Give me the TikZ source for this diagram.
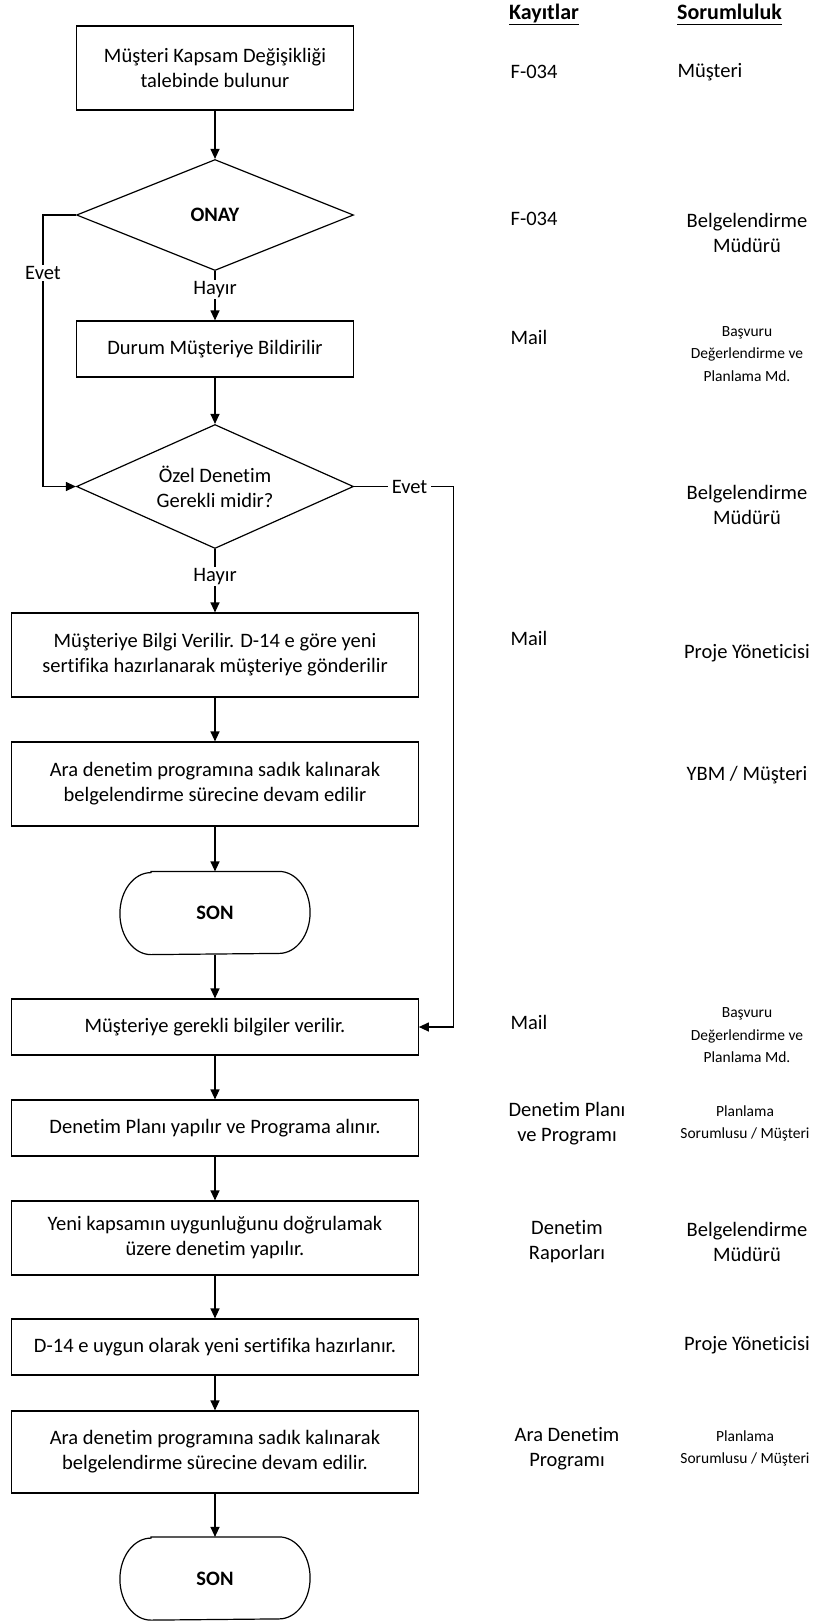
\documentclass[tikz,border=0pt]{standalone}
\usepackage{fontspec}
\setmainfont{Carlito}[Ligatures=NoCommon]
\usetikzlibrary{shapes.geometric,arrows.meta}
\begin{document}
\begin{tikzpicture}[x=1pt,y=-1pt,line width=1.2pt,
  every node/.style={font=\fontsize{20.5}{25}\selectfont},
  box/.style={draw, rectangle, align=center, inner sep=0pt, minimum width=277pt},
  wide/.style={minimum width=406.5pt},
  dec/.style={draw, diamond, aspect=2.2, align=center, inner sep=0pt, minimum width=277pt},
  arr/.style={-{Triangle[length=10pt,width=9pt]}},
  lbl/.style={fill=white, inner sep=1.5pt},
  term/.style={align=center, inner sep=0pt, minimum width=127pt, minimum height=82pt, font=\bfseries\fontsize{20.5}{25}\selectfont},
  rec/.style={align=center, inner sep=0pt},
  small/.style={align=center, inner sep=0pt, font=\fontsize{15.5}{22.5}\selectfont},
  hdr/.style={inner sep=0pt, anchor=base, font=\bfseries\fontsize{22}{26}\selectfont},
]
\fill[white] (0,0) rectangle (819,1622);

% flow nodes
\node[box, minimum height=84pt] (b1) at (215,68) {Müşteri Kapsam Değişikliği\\talebinde bulunur};
\node[dec, minimum height=111pt, font=\bfseries\fontsize{20.5}{25}\selectfont] (d1) at (215,215) {ONAY};
\node[box, minimum height=56pt] (b2) at (215,349) {Durum Müşteriye Bildirilir};
\node[dec, minimum height=124pt] (d2) at (215,486.5) {Özel Denetim\\Gerekli midir?};
\node[box, wide, minimum height=84pt] (b3) at (215,655) {Müşteriye Bilgi Verilir. D-14 e göre yeni\\sertifika hazırlanarak müşteriye gönderilir};
\node[box, wide, minimum height=84pt] (b4) at (215,784) {Ara denetim programına sadık kalınarak\\belgelendirme sürecine devam edilir};
\node[term] (s1) at (215,913) {SON};
\node[box, wide, minimum height=56pt] (b5) at (215,1027) {Müşteriye gerekli bilgiler verilir.};
\node[box, wide, minimum height=56pt] (b6) at (215,1128) {Denetim Planı yapılır ve Programa alınır.};
\node[box, wide, minimum height=74pt] (b7) at (215,1238) {Yeni kapsamın uygunluğunu doğrulamak\\üzere denetim yapılır.};
\node[box, wide, minimum height=56pt] (b8) at (215,1347) {D-14 e uygun olarak yeni sertifika hazırlanır.};
\node[box, wide, minimum height=82pt] (b9) at (215,1452) {Ara denetim programına sadık kalınarak\\belgelendirme sürecine devam edilir.};
\node[term] (s2) at (215,1578.5) {SON};

% terminator outlines
\foreach \t in {s1,s2}{
  \draw (\t.north west) -- (\t.north east)
    arc[start angle=90,end angle=-90,x radius=31pt,y radius=41pt]
    -- (\t.south west)
    arc[start angle=270,end angle=90,x radius=31pt,y radius=41pt] -- cycle;
}

% side lines
\coordinate (lline) at (43,0);
\coordinate (rline) at (453.5,0);

% connectors
\draw[arr] (b1.south) -- (d1.north);
\draw[arr] (d1.south) -- node[lbl,pos=0.37]{Hayır} (b2.north);
\draw[arr] (d1.west) -- (d1.west -| lline) -- node[lbl,pos=0.213]{Evet} (d2.west -| lline) -- (d2.west);
\draw[arr] (b2.south) -- (d2.north);
\draw[arr] (d2.east) -- node[lbl,inner xsep=4pt,pos=0.558]{Evet} (d2.east -| rline) |- (b5.east);
\draw[arr] (d2.south) -- node[lbl,pos=0.43]{Hayır} (b3.north);
\draw[arr] (b3.south) -- (b4.north);
\draw[arr] (b4.south) -- (s1.north);
\draw[arr] (s1.south) -- (b5.north);
\draw[arr] (b5.south) -- (b6.north);
\draw[arr] (b6.south) -- (b7.north);
\draw[arr] (b7.south) -- (b8.north);
\draw[arr] (b8.south) -- (b9.north);
\draw[arr] (b9.south) -- (s2.north);

% headers
\node[hdr] (hk) at (544,19.5) {\underline{Kayıtlar}};
\node[hdr] (hs) at (729.5,19.5) {\underline{Sorumluluk\vphantom{y}}};

% records column
\node[rec, anchor=west] (k1) at (510,72) {F-034};
\node[rec, anchor=west] (k2) at (510,219) {F-034};
\node[rec, anchor=west] (k3) at (510,337) {Mail};
\node[rec, anchor=west] (k4) at (510,638) {Mail};
\node[rec, anchor=west] (k5) at (510,1022.5) {Mail};
\node[rec] (k6) at (567,1124) {Denetim Planı\\ve Programı};
\node[rec] (k7) at (567,1242) {Denetim\\Raporları};
\node[rec] (k8) at (567,1449) {Ara Denetim\\Programı};

% responsibility column
\node[rec, anchor=west] (r1) at (677,72.5) {Müşteri};
\node[rec] (r2) at (747,233) {Belgelendirme\\Müdürü};
\node[small] (r3) at (747,354) {Başvuru\\Değerlendirme ve\\Planlama Md.};
\node[rec] (r4) at (747,504.5) {Belgelendirme\\Müdürü};
\node[rec] (r5) at (747,653) {Proje Yöneticisi};
\node[rec] (r6) at (747,775) {YBM / Müşteri};
\node[small] (r7) at (747,1035.5) {Başvuru\\Değerlendirme ve\\Planlama Md.};
\node[small] (r8) at (745,1123.5) {Planlama\\Sorumlusu / Müşteri};
\node[rec] (r9) at (747,1242) {Belgelendirme\\Müdürü};
\node[rec] (r10) at (747,1345.5) {Proje Yöneticisi};
\node[small] (r11) at (745,1448.5) {Planlama\\Sorumlusu / Müşteri};
\end{tikzpicture}
\end{document}
